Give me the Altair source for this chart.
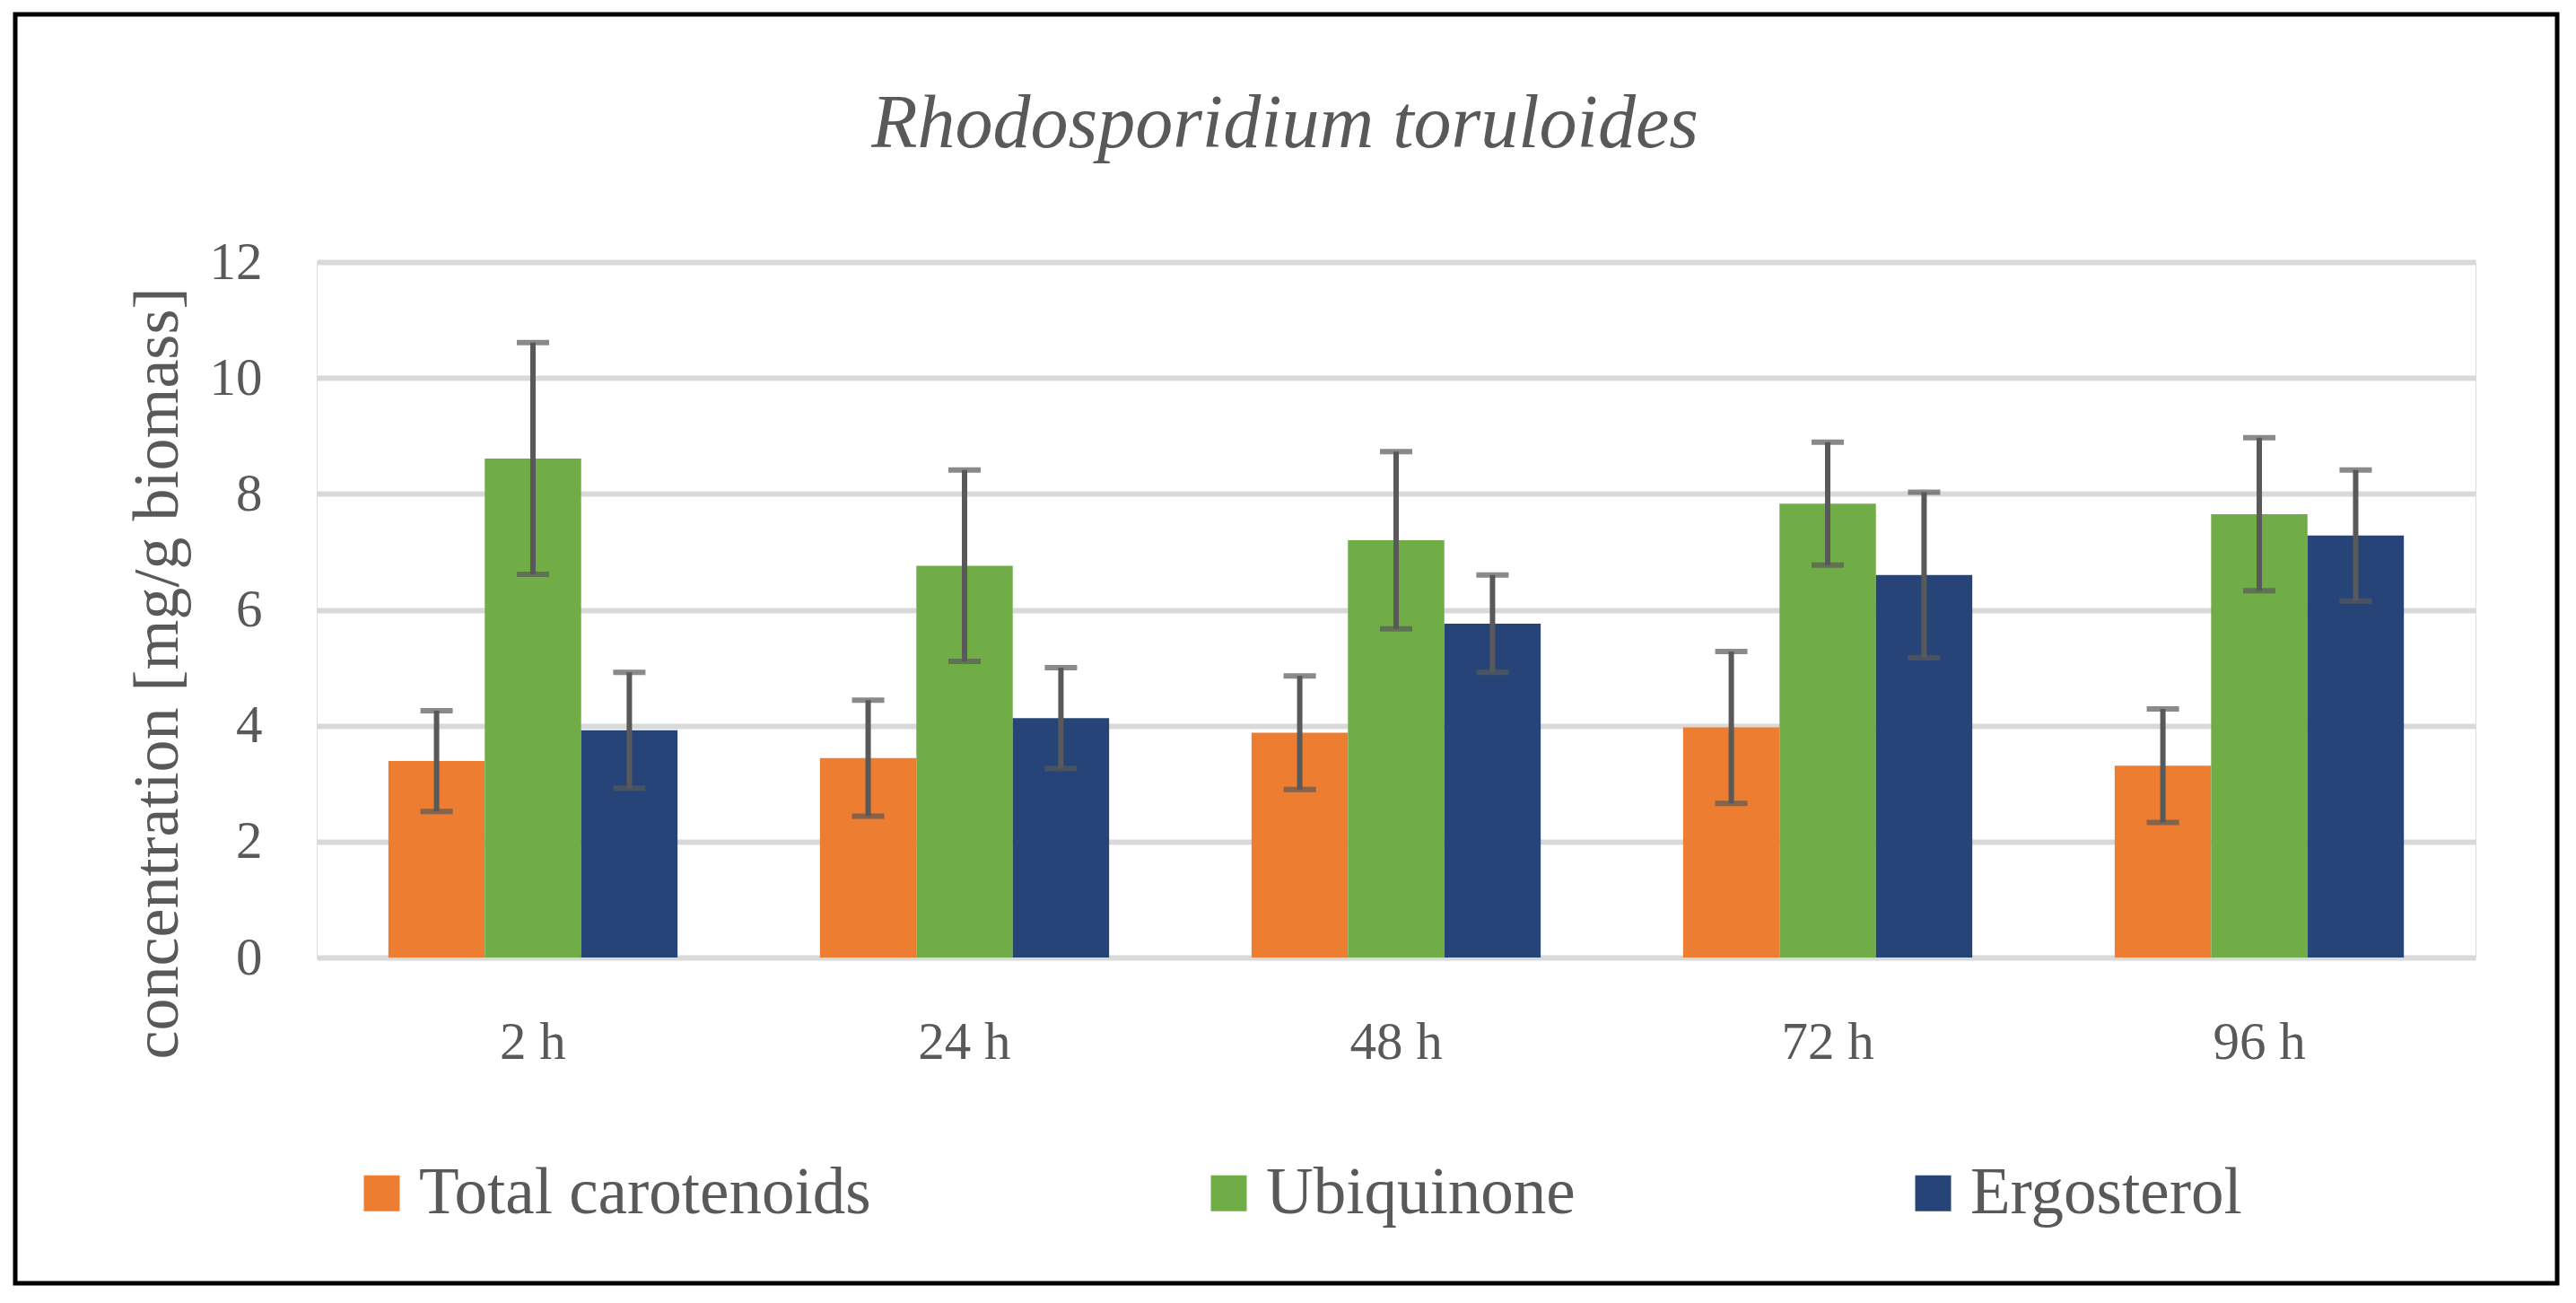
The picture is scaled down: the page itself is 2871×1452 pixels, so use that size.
import altair as alt
import pandas as pd

title_text = ["Rhodosporidium toruloides"]
times = ["2 h", "24 h", "48 h", "72 h", "96 h"]
series = ["Total carotenoids", "Ubiquinone", "Ergosterol"]
colors = ["#ED7D31", "#70AD47", "#264478"]

carotenoids = [3.39, 3.44, 3.88, 3.97, 3.31]
carotenoids_err = [0.87, 1.00, 0.98, 1.31, 0.98]
ubiquinone = [8.61, 6.76, 7.20, 7.83, 7.65]
ubiquinone_err = [2.00, 1.65, 1.53, 1.06, 1.32]
ergosterol = [3.92, 4.13, 5.76, 6.60, 7.28]
ergosterol_err = [1.00, 0.87, 0.84, 1.43, 1.13]

y_ticks = [0, 2, 4, 6, 8, 10, 12]

rows = []
for name, vals, errs in zip(series,
                            [carotenoids, ubiquinone, ergosterol],
                            [carotenoids_err, ubiquinone_err, ergosterol_err]):
    for t, v, e in zip(times, vals, errs):
        rows.append({"time": t, "series": name, "value": v, "err": e})
df = pd.DataFrame(rows)

FONT = "Liberation Serif"
GREY = "#595959"

x_enc = alt.X("time:N", sort=times, title=None,
              scale=alt.Scale(paddingInner=0.33, paddingOuter=0.166),
              axis=alt.Axis(labelFont=FONT, labelFontSize=59, labelColor=GREY,
                            labelPadding=65, ticks=False, domain=False, labelAngle=0))
xoff = alt.XOffset("series:N", sort=series,
                   scale=alt.Scale(paddingInner=0, paddingOuter=0))

base = alt.Chart(df)

frame = alt.Chart(pd.DataFrame({"a": [0]})).mark_rect(
    fillOpacity=0, stroke="black", strokeWidth=5
).encode(x=alt.value(-336), x2=alt.value(2497), y=alt.value(-276), y2=alt.value(1138))

title = alt.Chart(pd.DataFrame({"t": title_text})).mark_text(
    font=FONT, fontStyle="italic", fontSize=84, color=GREY,
    align="center", baseline="alphabetic"
).encode(text="t:N", x=alt.value(1079), y=alt.value(-128))

bars = base.mark_bar().encode(
    x=x_enc,
    xOffset=xoff,
    y=alt.Y("value:Q", scale=alt.Scale(domain=[0, 12], nice=False),
            title="concentration [mg/g biomass]",
            axis=alt.Axis(values=y_ticks, format="d", labelFont=FONT, labelFontSize=59,
                          labelColor=GREY, labelPadding=61, ticks=False, tickSize=0,
                          domain=False, grid=True, gridColor="#D9D9D9", gridWidth=6,
                          titleFont=FONT, titleFontSize=72, titleColor=GREY,
                          titleFontWeight="normal", titleAngle=-90,
                          titleX=-178, titleY=458, titleBaseline="middle",
                          titleAlign="center")),
    color=alt.Color("series:N", sort=series,
                    scale=alt.Scale(domain=series, range=colors),
                    legend=alt.Legend(title=None, orient="none", direction="horizontal",
                                      legendX=36, legendY=1001,
                                      symbolType="square", symbolSize=1600,
                                      symbolStrokeWidth=0, symbolOpacity=1,
                                      labelFont=FONT, labelFontSize=73,
                                      labelColor=GREY, labelOffset=5,
                                      columnPadding=362, labelLimit=0)),
)

err_base = base.transform_calculate(
    lo="datum.value - datum.err", hi="datum.value + datum.err"
)

rules = err_base.mark_rule(color=GREY, strokeWidth=6).encode(
    x=alt.X("time:N", sort=times), xOffset=xoff,
    y="lo:Q", y2="hi:Q",
)
cap_lo = err_base.mark_tick(color=GREY, size=36, thickness=6, orient="horizontal").encode(
    x=alt.X("time:N", sort=times), xOffset=xoff, y="lo:Q",
)
cap_hi = err_base.mark_tick(color=GREY, size=36, thickness=6, orient="horizontal").encode(
    x=alt.X("time:N", sort=times), xOffset=xoff, y="hi:Q",
)

chart = alt.layer(frame, title, bars, rules, cap_lo, cap_hi).properties(
    width=2406, height=775,
    autosize=alt.AutoSizeParams(type="none"),
    padding={"left": 345, "top": 284, "right": 104, "bottom": 377},
).configure_view(stroke=None).configure(background="white")

chart.save("out.html", embed_options={"renderer": "svg", "actions": False})
